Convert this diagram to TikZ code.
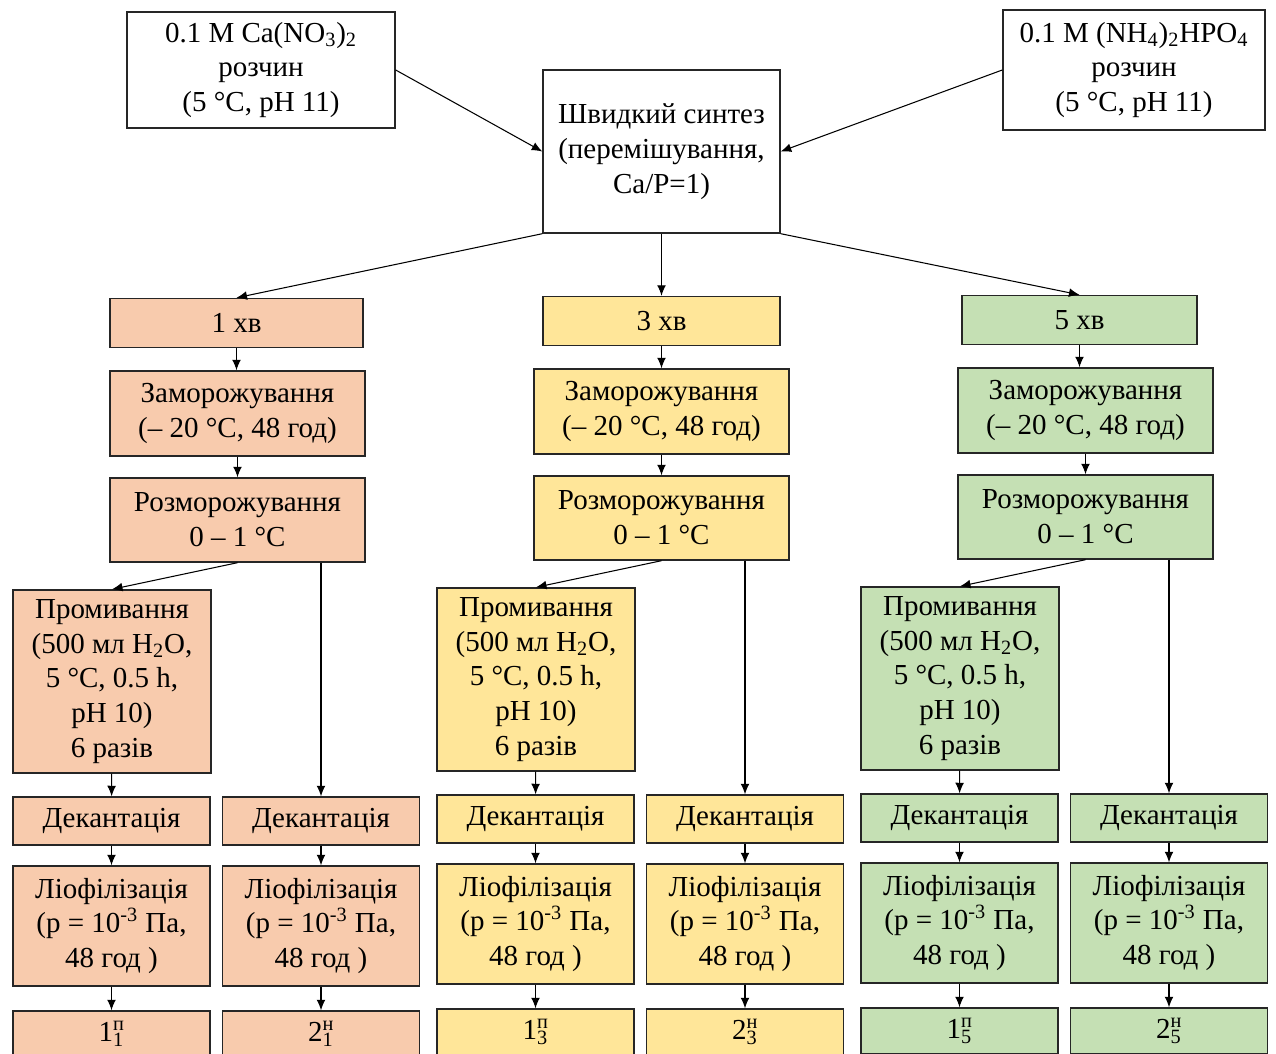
\documentclass[tikz,border=0pt]{standalone}
\usepackage{fontspec}
\setmainfont{Liberation Serif}
\usetikzlibrary{arrows.meta}
\definecolor{salmon}{RGB}{248,203,173}
\definecolor{sandy}{RGB}{255,230,153}
\definecolor{sage}{RGB}{197,224,180}
\newcommand{\pxu}{0.02cm}
\tikzstyle{stepbox}=[draw=black!85,line width=0.8pt,align=center,inner sep=0pt,font=\fontsize{16.5}{19.8}\selectfont]
\tikzstyle{link} = [draw,line width=0.6pt,-{Latex[length=6pt,width=5pt]}]

\begin{document}
\begin{tikzpicture}[x=\pxu, y=-\pxu]
				\path[use as bounding box, clip] (0,0) rectangle (1276,1054);
				% First the starting solutions and the synthesis
				\node[stepbox, minimum width=268*\pxu, minimum height=116*\pxu] (ca) at (261,70)
				{0.1 M Ca(NO\textsubscript{3})\textsubscript{2}\\розчин\\(5 °C, pH 11)};
				\node[stepbox, minimum width=262*\pxu, minimum height=120*\pxu] (nh) at (1134,70)
				{0.1 M (NH\textsubscript{4})\textsubscript{2}HPO\textsubscript{4}\\розчин\\(5 °C, pH 11)};
				\node[stepbox, minimum width=237*\pxu, minimum height=163*\pxu] (synth) at (661.5,151.5)
				{Швидкий синтез\\(перемішування,\\Ca/P=1)};
				\path[link] (ca.east) -- (synth.west);
				\path[link] (nh.west) -- (synth.east);
	
				% Then one column for each synthesis time
				\foreach \i/\dx/\dy/\clr/\tx/\tw in {1/0/0/salmon/236.5/253, 3/424/-2/sandy/661.5/237, 5/848/-3/sage/1079.5/235}
				{
				\node[stepbox, fill=\clr, minimum width=\tw*\pxu, minimum height=49*\pxu] (t\i) at (\tx,{323+\dy}) {\i\ хв};
				\node[stepbox, fill=\clr, minimum width=255*\pxu, minimum height=85*\pxu] (frz\i) at ({237.5+\dx},{413.5+\dy})
				{Заморожування\\(– 20 °C, 48 год)};
				\node[stepbox, fill=\clr, minimum width=255*\pxu, minimum height=84*\pxu] (thaw\i) at ({237.5+\dx},{520+\dy})
				{Розморожування\\0 – 1 °C};
				\node[stepbox, fill=\clr, minimum width=198*\pxu, minimum height=183*\pxu] (wash\i) at ({112+\dx},{681.5+\dy})
				{Промивання\\(500 мл H\textsubscript{2}O,\\5 °C, 0.5 h,\\pH 10)\\6 разів};
				\foreach \s/\sx/\n/\sup in {A/111.5/1/п, B/321/2/н}
				{
				\node[stepbox, fill=\clr, minimum width=197*\pxu, minimum height=48*\pxu] (dec\s\i) at ({\sx+\dx},{821+\dy}) {Декантація};
				\node[stepbox, fill=\clr, minimum width=197*\pxu, minimum height=120*\pxu] (lyo\s\i) at ({\sx+\dx},{926+\dy})
				{Ліофілізація\\(p = 10\textsuperscript{-3} Па,\\48 год )};
				\node[stepbox, fill=\clr, minimum width=197*\pxu, minimum height=46*\pxu] (out\s\i) at ({\sx+\dx},{1034+\dy})
				{\n\rlap{\textsuperscript{\sup}}\textsubscript{\i}};
				\path[link] (dec\s\i) -- (lyo\s\i);
				\path[link] (lyo\s\i) -- (out\s\i);
				}
	
				\path[link] (t\i.south) -- (t\i.south |- frz\i.north);
				\path[link] (frz\i) -- (thaw\i);
				\path[link] (thaw\i.south) -- (wash\i.north);
				\path[link] (thaw\i.south -| decB\i.north) -- (decB\i.north);
				\path[link] (wash\i) -- (decA\i);
				}
	
				\path[link] (synth.south west) -- (t1.north);
				\path[link] (synth.south) -- (t3.north);
				\path[link] (synth.south east) -- (t5.north);
			\end{tikzpicture}
\end{document}
